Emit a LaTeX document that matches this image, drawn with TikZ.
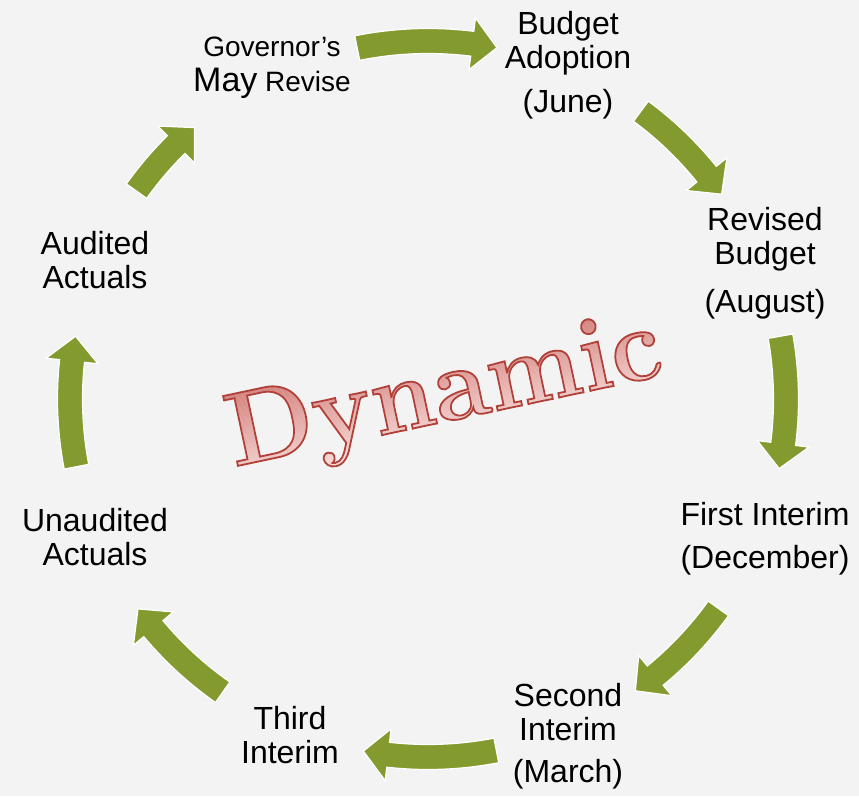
\documentclass[tikz,border=0pt]{standalone}
\usepackage{fontspec}
\setsansfont{Liberation Sans}
\usepackage{tikz}

\definecolor{paper}{RGB}{243,243,243}
\definecolor{cyclegreen}{RGB}{131,155,46}

% pink bands, dark at the top and pale at the bottom (pdf units, from the baseline)
\def\dynbands{}
\foreach \k in {0,...,47} {
  \pgfmathsetmacro{\bandy}{-26+\k*2.2}
  \pgfmathsetmacro{\bandr}{(249-38*\k/47)/255}
  \pgfmathsetmacro{\bandg}{(226-100*\k/47)/255}
  \pgfmathsetmacro{\bandb}{(224-102*\k/47)/255}
  \xdef\dynbands{\dynbands\space\bandr\space\bandg\space\bandb\space rg -20 \bandy\space 560 2.4 re f}
}

% glyphs used as a clip, then filled with the bands
\newcommand{\bandfilled}[1]{\special{pdf:literal direct 7 Tr}#1\special{pdf:literal direct 0 Tr}%
  \setbox0\hbox{#1}\kern-\wd0\special{pdf:literal \dynbands}\kern\wd0}
% glyph outlines only, through the pdf text render mode
\newcommand{\outlineonly}[1]{\special{pdf:literal direct 1 Tr 1.8 w 0.69 0.25 0.22 RG}#1\special{pdf:literal direct 0 Tr}}

\begin{document}
\begin{tikzpicture}[x=1pt, y=1pt,
    stage/.style={font=\sffamily\fontsize{32}{34}\selectfont, align=center, anchor=base, inner sep=0pt},
    cyclearrow/.style={fill=cyclegreen, draw=white, line width=1.2pt},
    bigword/.style={font=\rmfamily\bfseries\fontsize{104}{104}\selectfont, inner sep=0pt}]
    \fill[paper] (0,0) rectangle (859,796);
    \useasboundingbox (0,0) rectangle (859,796);
    \coordinate (hub) at (428,397);

    % budget cycle, clockwise from the top (anchored at the last line)
    \node[stage] (adopt) at (568,683) {Budget\\Adoption\\[10pt](June)};
    \node[stage] (revised) at (765,483) {Revised\\Budget\\[14pt](August)};
    \node[stage] (first) at (765,228) {First Interim\\[9pt](December)};
    \node[stage] (second) at (568,14) {Second\\Interim\\[8pt](March)};
    \node[stage] (third) at (290,33) {Third\\Interim};
    \node[stage] (unaudited) at (95,231) {Unaudited\\Actuals};
    \node[stage] (audited) at (95,507) {Audited\\Actuals};
    \node[stage, font=\sffamily\fontsize{28}{35}\selectfont] (mayrev) at (272,704) {Governor’s\\{\fontsize{34}{35}\selectfont May} Revise};

    % arrows: tail angle / tip angle around the hub
    \begin{scope}[shift={(hub)}]
      \foreach \tail/\tip in {101.4/78.9, 53.5/34.9, 10.1/-11.2, -35.8/-54.6,
                              -79/-100.4, -125/-144.1, 190.9/169.9, 144.5/130.7} {
        \pgfmathsetmacro{\neck}{\tip+4}
        \path[cyclearrow] (\tail:370.5) arc[start angle=\tail, end angle=\neck, radius=370.5pt]
          -- (\neck:384) -- (\tip:358) -- (\neck:332) -- (\neck:345.5)
          arc[start angle=\neck, end angle=\tail, radius=345.5pt] -- cycle;
      }
    \end{scope}

    % the word across the middle
    \coordinate (dyn) at (445,400);
    \begin{scope}[transform canvas={shift={(dyn)}, rotate=12, xscale=0.97}]
      \node[bigword] (dynfill) at (0,0) {\bandfilled{Dynamic}};
      \node[bigword] (dynamic) at (0,0) {\outlineonly{Dynamic}};
    \end{scope}
\end{tikzpicture}
\end{document}
